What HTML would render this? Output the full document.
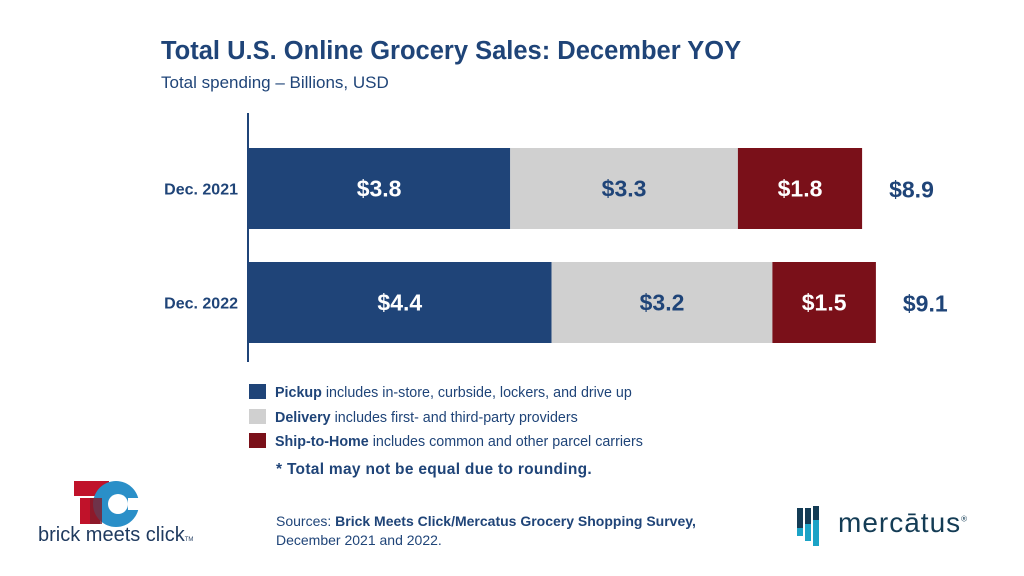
<!DOCTYPE html>
<html><head><meta charset="utf-8"><style>
body{margin:0;width:1024px;height:576px;background:#fff;font-family:"Liberation Sans",sans-serif;overflow:hidden;position:relative}
.t{position:absolute;white-space:nowrap}
</style></head><body>
<div class="t" style="left:161px;top:37px;font-size:25.5px;font-weight:bold;color:#1f4478">Total U.S. Online Grocery Sales: December YOY</div>
<div class="t" style="left:161px;top:73px;font-size:17px;color:#1f4478">Total spending – Billions, USD</div>
<svg id="chart" width="1024" height="576" style="position:absolute;left:0;top:0"></svg>
<div style="position:absolute;left:249px;top:381px;font-size:14.3px;color:#1f4478;line-height:24.5px">
<div><span style="display:inline-block;width:17px;height:15px;background:#1f4478;vertical-align:-2px;margin-right:9px"></span><b>Pickup</b> includes in-store, curbside, lockers, and drive up</div>
<div><span style="display:inline-block;width:17px;height:15px;background:#d0d0d0;vertical-align:-2px;margin-right:9px"></span><b>Delivery</b> includes first- and third-party providers</div>
<div><span style="display:inline-block;width:17px;height:15px;background:#7a1019;vertical-align:-2px;margin-right:9px"></span><b>Ship-to-Home</b> includes common and other parcel carriers</div>
</div>
<div class="t" style="left:276px;top:461px;font-size:15.5px;font-weight:bold;color:#1f4478;letter-spacing:0.3px">* Total may not be equal due to rounding.</div>
<div class="t" style="left:276px;top:512px;font-size:14px;color:#1f4478;line-height:19px">Sources: <b>Brick Meets Click/Mercatus Grocery Shopping Survey,</b><br>December 2021 and 2022.</div>
<svg width="200" height="80" style="position:absolute;left:30px;top:478px">
<rect x="44" y="3" width="35" height="15" fill="#c0122a"/>
<rect x="50" y="20" width="20" height="26" fill="#c0122a"/>
<circle cx="86" cy="26" r="23" fill="#2a8fc8"/><circle cx="88" cy="26" r="10" fill="#fff"/>
<rect x="98" y="20" width="20" height="12" fill="#fff"/>
<rect x="60" y="20" width="12" height="26" fill="#801c2a" opacity=".8"/>
</svg>
<div class="t" style="left:38px;top:524px;font-size:20px;color:#1f3a5f">brick meets click<span style="font-size:6px">TM</span></div>
<svg width="40" height="40" style="position:absolute;left:795px;top:506px">
<rect x="2" y="2" width="6" height="28" fill="#143c55"/><rect x="10" y="2" width="6" height="33" fill="#143c55"/><rect x="18" y="0" width="6" height="40" fill="#143c55"/>
<rect x="2" y="22" width="6" height="8" fill="#1ba3c6"/><rect x="10" y="18" width="6" height="17" fill="#1ba3c6"/><rect x="18" y="14" width="6" height="26" fill="#1ba3c6"/>
</svg>
<div class="t" style="left:838px;top:507px;font-size:28px;color:#143c55;letter-spacing:1px">mercātus<sup style="font-size:8px">®</sup></div>
<script>
const categories=["Dec. 2021","Dec. 2022"];
const pickup=[3.8,4.4];
const delivery=[3.3,3.2];
const ship=[1.8,1.5];
const totals=["$8.9","$9.1"];
const svg=document.getElementById('chart');const NS="http://www.w3.org/2000/svg";
const x0=248,k=69,barTop=[148,262],bh=81;
const x=v=>x0+v*k;
function el(t,a){const e=document.createElementNS(NS,t);for(const q in a)e.setAttribute(q,a[q]);svg.appendChild(e);return e;}
const series=[[pickup,"#1f4478","#fff","pickup"],[delivery,"#d0d0d0","#1f4478","delivery"],[ship,"#7a1019","#fff","ship"]];
categories.forEach((c,i)=>{
 const y=barTop[i];let acc=0;
 const lb=el('text',{x:238,y:y+bh/2+6,'text-anchor':'end','font-size':16,'font-weight':'bold',fill:'#1f4478'});lb.textContent=c;
 
 
 series.forEach(s=>{const v=s[0][i];
  const r=el('rect',{x:x(acc),y:y,width:v*k,height:bh,fill:s[1]});
  
  
  const t=el('text',{x:x(acc+v/2),y:y+bh/2+8,'text-anchor':'middle','font-size':23,'font-weight':'bold',fill:s[2]});t.textContent='$'+v.toFixed(1);
  
  
  acc+=v;});
 const tt=el('text',{x:x(acc)+27,y:y+bh/2+9,'font-size':23,'font-weight':'bold',fill:'#1f4478'});tt.textContent=totals[i];
 
 
});
const ax=el('line',{x1:x0,x2:x0,y1:113,y2:362,stroke:'#1f4478','stroke-width':2});


</script>
</body></html>
